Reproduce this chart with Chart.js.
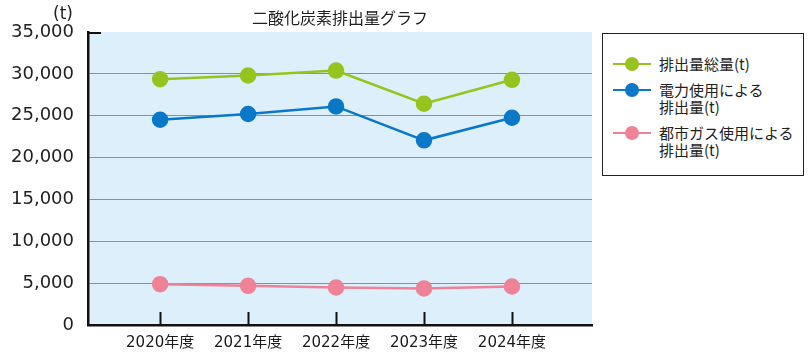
<!DOCTYPE html>
<html>
<head>
<meta charset="utf-8">
<script src="https://cdn.jsdelivr.net/npm/chart.js@4/dist/chart.umd.min.js"></script>
<style>
  html, body { margin: 0; padding: 0; background: #fff; }
  #wrap { position: relative; width: 810px; height: 359px; overflow: hidden; }
  #c { position: absolute; left: 0; top: 0; }
  .txt { position: absolute; color: #222; font-family: "DejaVu Sans", "Noto Sans CJK JP", sans-serif; white-space: nowrap; }
  #title { left: 88px; width: 504px; top: 5px; text-align: center; font-size: 16px; font-family: "Noto Sans CJK JP", sans-serif; }
  #unit { left: 53px; top: 3px; font-size: 17px; }
  #legend { position: absolute; left: 602px; top: 33px; width: 202px; height: 143px; border: 1.5px solid #222; box-sizing: border-box; background: #fff; padding-top: 21px; }
  .row { display: flex; align-items: flex-start; margin-bottom: 9px; }
  .sym { position: relative; width: 38px; height: 17px; margin-left: 10px; margin-right: 8px; flex: none; }
  .sym .ln { position: absolute; left: 0; right: 0; top: 7.5px; height: 2px; }
  .sym .dot { position: absolute; left: 12px; top: 1.5px; width: 14px; height: 14px; border-radius: 50%; }
  .lab { font-family: "Noto Sans CJK JP", sans-serif; font-size: 15px; line-height: 17px; color: #222; }
</style>
</head>
<body>
<div id="wrap">
  <canvas id="c" width="810" height="359"></canvas>
  <div id="title" class="txt">二酸化炭素排出量グラフ</div>
  <div id="unit" class="txt">(t)</div>
  <div id="legend"></div>
</div>
<script>
// ---- data ----
const categories = ['2020年度', '2021年度', '2022年度', '2023年度', '2024年度'];
const totalEmission = [29370, 29800, 30390, 26430, 29290];
const electricEmission = [24520, 25200, 26110, 22060, 24760];
const gasEmission = [4880, 4680, 4480, 4370, 4600];
const seriesNames = [['排出量総量(t)'], ['電力使用による', '排出量(t)'], ['都市ガス使用による', '排出量(t)']];
const yTicks = [0, 5000, 10000, 15000, 20000, 25000, 30000, 35000];

const colors = ['#96c31e', '#0a78c8', '#ee8296'];
const seriesValues = [totalEmission, electricEmission, gasEmission];

const datasets = seriesValues.map((vals, k) => ({
  label: seriesNames[k].join(''),
  data: vals.map((v, i) => ({ x: i, y: v })),
  borderColor: colors[k],
  backgroundColor: colors[k],
  pointBackgroundColor: colors[k],
  pointBorderColor: colors[k],
  borderWidth: 2.5,
  pointRadius: 7,
  pointHoverRadius: 7,
  tension: 0
}));

// HTML legend
const leg = document.getElementById('legend');
seriesNames.forEach((lines, k) => {
  const row = document.createElement('div');
  row.className = 'row';
  row.innerHTML = '<div class="sym"><div class="ln" style="background:' + colors[k] + '"></div><div class="dot" style="background:' + colors[k] + '"></div></div>' +
    '<div class="lab">' + lines.join('<br>') + '</div>';
  leg.appendChild(row);
});

const areaBg = {
  id: 'areaBg',
  beforeDraw(chart) {
    const { ctx, chartArea: a } = chart;
    ctx.save();
    ctx.fillStyle = '#ddeffa';
    ctx.fillRect(a.left, a.top, a.right - a.left, a.bottom - a.top);
    ctx.restore();
  },
  afterDraw(chart) {
    const { ctx, chartArea: a, scales } = chart;
    ctx.save();
    ctx.strokeStyle = '#111';
    ctx.lineWidth = 2;
    categories.forEach((c, i) => {
      const x = Math.round(scales.x.getPixelForValue(i)) + 0.5;
      ctx.beginPath();
      ctx.moveTo(x, a.bottom);
      ctx.lineTo(x, a.bottom - 13);
      ctx.stroke();
    });
    const yt = Math.round(scales.y.getPixelForValue(yTicks[yTicks.length - 1]));
    ctx.beginPath();
    ctx.moveTo(a.left, yt + 1);
    ctx.lineTo(a.left + 13, yt + 1);
    ctx.stroke();
    ctx.restore();
  }
};

new Chart(document.getElementById('c'), {
  type: 'line',
  data: { datasets },
  plugins: [areaBg],
  options: {
    responsive: false,
    animation: false,
    events: [],
    layout: { padding: { left: 0, right: 218, top: 32, bottom: 0 } },
    plugins: { legend: { display: false }, title: { display: false }, tooltip: { enabled: false } },
    scales: {
      x: {
        type: 'linear',
        min: -0.82,
        max: 4.91,
        afterBuildTicks(scale) { scale.ticks = categories.map((c, i) => ({ value: i })); },
        afterFit(scale) { scale.height = 34; },
        grid: { display: false, drawTicks: false },
        border: { display: true, color: '#111', width: 2.5 },
        ticks: {
          padding: 9,
          autoSkip: false,
          maxRotation: 0,
          color: '#1a1a1a',
          font: { family: '"DejaVu Sans", "Noto Sans CJK JP", sans-serif', size: 15 },
          callback: (v) => categories[v]
        }
      },
      y: {
        min: 0,
        max: 35000,
        afterBuildTicks(scale) { scale.ticks = yTicks.map(v => ({ value: v })); },
        afterFit(scale) { scale.width = 88; },
        grid: {
          drawTicks: false,
          color: (ctx) => (ctx.tick && (ctx.tick.value === 0 || ctx.tick.value === 35000)) ? 'rgba(0,0,0,0)' : '#8a9296',
          lineWidth: 1
        },
        border: { display: true, color: '#111', width: 2.5 },
        ticks: {
          padding: 14,
          color: '#222',
          font: { family: '"DejaVu Sans", sans-serif', size: 18 },
          callback: (v) => v.toLocaleString('en-US')
        }
      }
    }
  }
});
</script>
</body>
</html>
